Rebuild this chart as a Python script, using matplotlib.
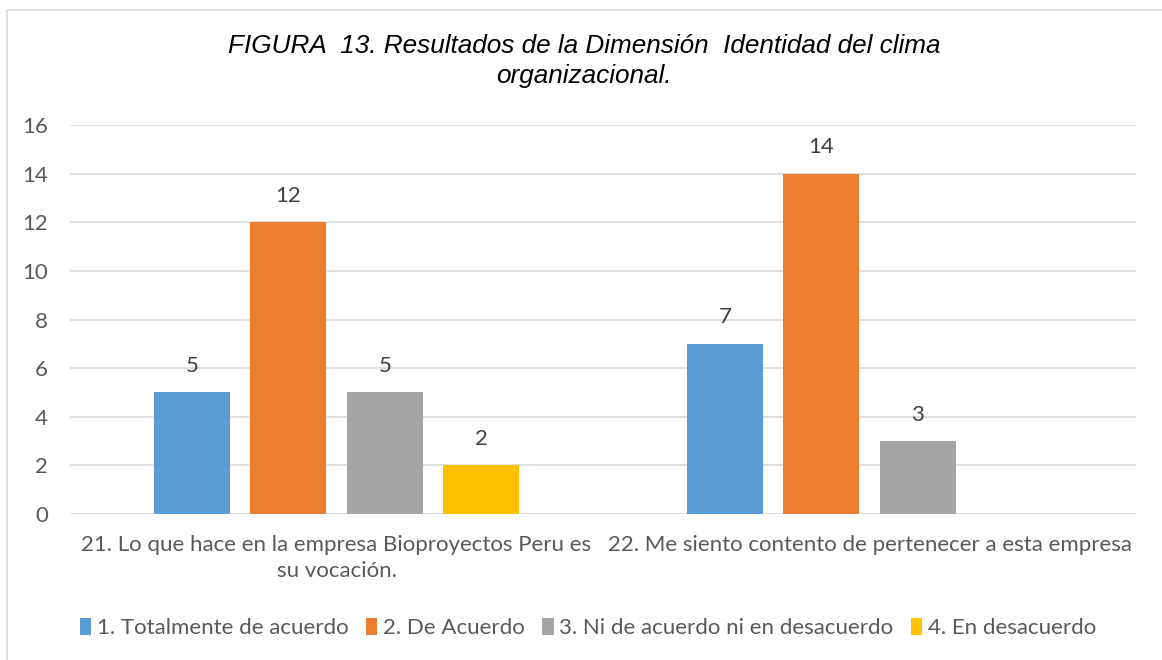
import numpy as np
import matplotlib
matplotlib.use("Agg")
import matplotlib.pyplot as plt
from matplotlib.patches import Rectangle

categories = ["21. Lo que hace en la empresa Bioproyectos Peru es\nsu vocación.",
              "22. Me siento contento de pertenecer a esta empresa"]
series = ["1. Totalmente de acuerdo", "2. De Acuerdo",
          "3. Ni de acuerdo ni en desacuerdo", "4. En desacuerdo"]
totalmente = [5, 7]
de_acuerdo = [12, 14]
neutral = [5, 3]
desacuerdo = [2, 0]
values = [totalmente, de_acuerdo, neutral, desacuerdo]
colors = ["#5B9BD5", "#ED7D31", "#A5A5A5", "#FFC000"]

FONT = "Lato"
FS = 16
fig = plt.figure(figsize=(11.62, 6.6), dpi=100)
fig.patch.set_facecolor("white")
# chart border like the Excel chart area
fig.patches.append(Rectangle((7 / 1162, -0.1), 1.2, 1 - 10 / 660 + 0.1,
                             transform=fig.transFigure, fill=False,
                             edgecolor="#D9D9D9", linewidth=1.2))

ax = fig.add_axes([70 / 1162, 1 - 514 / 660, (1136 - 70) / 1162, (514 - 125) / 660])
x = np.arange(len(categories))
step, width = 0.181, 0.143
for i, (vals, col, name) in enumerate(zip(values, colors, series)):
    pos = x + (i - 1.5) * step
    bars = ax.bar(pos, vals, width, color=col, label=name, zorder=3)
    for b, v in zip(bars, vals):
        if v:
            ax.annotate(str(v), (b.get_x() + b.get_width() / 2, v),
                        xytext=(0, 19), textcoords="offset points",
                        ha="center", va="center", fontsize=FS,
                        color="#404040", family=FONT)

ax.set_xlim(-0.5, 1.5)
ax.set_ylim(0, 16)
ax.set_yticks(range(0, 17, 2))
ax.grid(axis="y", color="#D9D9D9", linewidth=1.2, zorder=0)
for s in ax.spines.values():
    s.set_visible(False)
ax.tick_params(axis="y", length=0, pad=16, labelsize=FS, labelcolor="#595959")
ax.tick_params(axis="x", length=0, pad=15, labelsize=FS, labelcolor="#595959")
ax.set_xticks(x)
ax.set_xticklabels(categories, family=FONT, linespacing=1.4)
for lab in ax.get_yticklabels():
    lab.set_family(FONT)

fig.text(584 / 1162, 1 - 61 / 660, "FIGURA  13. Resultados de la Dimensión  Identidad del clima\norganizacional.",
         ha="center", va="center", fontsize=18.8, style="italic",
         family="Liberation Sans", color="#000000", linespacing=1.28)

leg = fig.legend(loc="center", bbox_to_anchor=(588 / 1162, 1 - 628 / 660), ncol=4,
                 frameon=False, handlelength=0.5, handleheight=0.8,
                 handletextpad=0.25, columnspacing=0.8,
                 prop={"family": FONT, "size": FS})
for t in leg.get_texts():
    t.set_color("#595959")

fig.savefig("out.png", dpi=100, facecolor="white")
